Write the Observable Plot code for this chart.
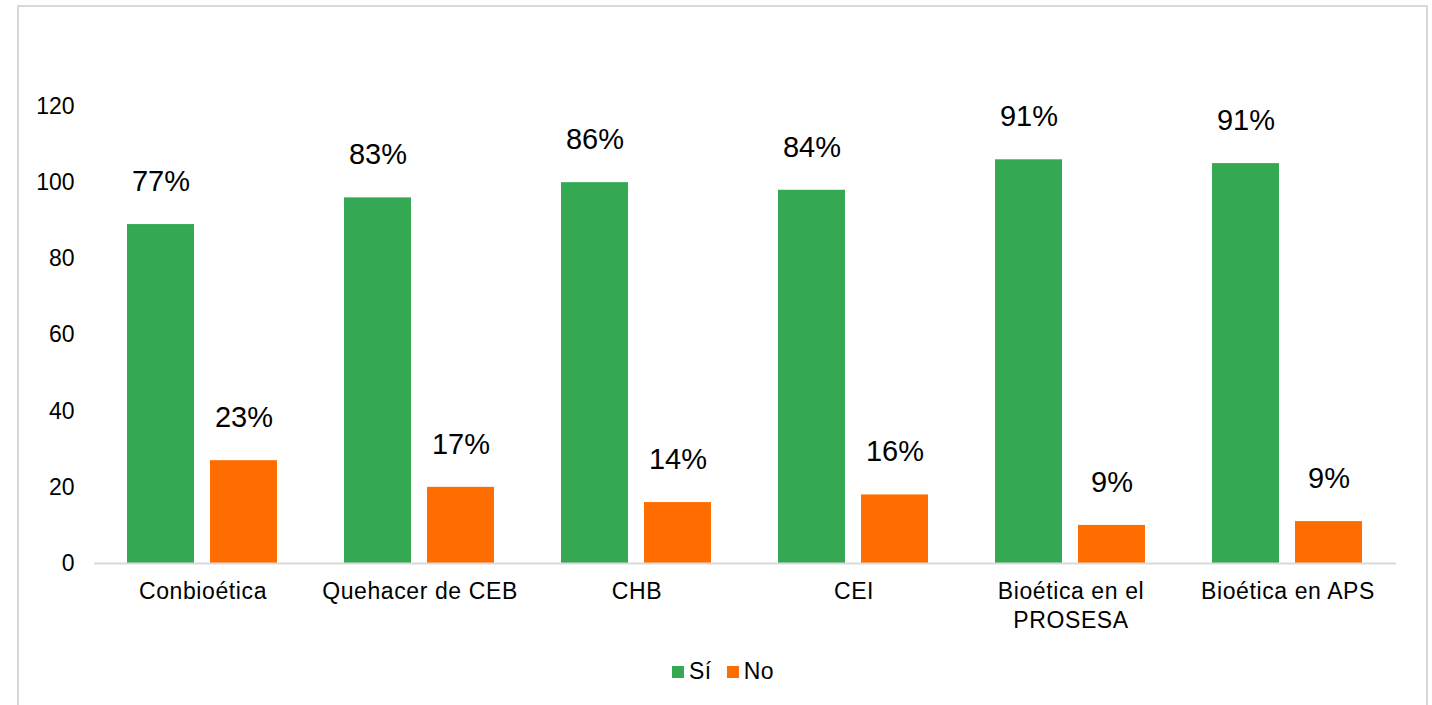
<!DOCTYPE html>
<html><head><meta charset="utf-8">
<script src="https://cdn.jsdelivr.net/npm/d3@7"></script>
<script src="https://cdn.jsdelivr.net/npm/@observablehq/plot@0.6"></script>
<style>
body{margin:0;background:#fff;font-family:"Liberation Sans",Arial,sans-serif;width:1432px;height:705px;overflow:hidden;position:relative;}
#frame{position:absolute;left:17px;top:5px;width:1411px;height:740px;border:2px solid #d9d9d9;box-sizing:border-box;}
#chart{position:absolute;left:0;top:0;}
#chart g[aria-label="fx-axis tick label"] text{letter-spacing:0.6px;}
#legend{position:absolute;top:658px;left:672px;display:flex;align-items:center;font-size:23px;color:#000;letter-spacing:0.5px;}
#legend .sw{width:12px;height:12px;display:inline-block;margin-right:5px;}
#legend .item{display:flex;align-items:center;margin-right:15px;}
</style></head>
<body>
<div id="frame"></div>
<div id="chart"></div>
<div id="legend"></div>
<script>
const categories = ["Conbioética","Quehacer de CEB","CHB","CEI","Bioética en el PROSESA","Bioética en APS"];
const tickLabels = ["Conbioética","Quehacer de CEB","CHB","CEI","Bioética en el\nPROSESA","Bioética en APS"];
const series = ["Sí","No"];
const siValues = [89,96,100,98,106,105];
const noValues = [27,20,16,18,10,11];
const siPct = ["77%","83%","86%","84%","91%","91%"];
const noPct = ["23%","17%","14%","16%","9%","9%"];
const yTicks = [0,20,40,60,80,100,120];
const colors = ["#34a853","#ff6d01"];

const rows = [];
categories.forEach((c,i)=>{
  rows.push({cat:c, s:"Sí", v:siValues[i], pct:siPct[i]});
  rows.push({cat:c, s:"No", v:noValues[i], pct:noPct[i]});
});

const chart = Plot.plot({
  width:1432, height:640,
  marginLeft:92, marginRight:34, marginTop:106, marginBottom:77,
  style:{fontFamily:"'Liberation Sans', Arial, sans-serif", fontSize:"23px", color:"#000", background:"transparent", overflow:"visible"},
  fx:{domain:categories, paddingInner:0, paddingOuter:0, label:null},
  x:{domain:series, paddingInner:0.19, paddingOuter:0.39, axis:null},
  y:{domain:[0,120], axis:null},
  color:{domain:series, range:colors},
  marks:[
    Plot.axisY(yTicks, {tickSize:0, tickPadding:20, label:null, fontSize:23, fill:"#000"}),
    Plot.axisFx({anchor:"bottom", tickSize:0, tickPadding:15, label:null, fontSize:23, lineHeight:1.25, fill:"#000",
      tickFormat: d => tickLabels[categories.indexOf(d)]}),
    Plot.barY(rows, {fx:"cat", x:"s", y:"v", fill:"s"}),
    Plot.ruleY([0], {stroke:"#d9d9d9", strokeWidth:2}),
    Plot.text(rows, {fx:"cat", x:"s", y:"v", text:"pct", dy:-43, fontSize:29, fill:"#000"})
  ]
});
document.getElementById("chart").appendChild(chart);

const legend = document.getElementById("legend");
series.forEach((s,i)=>{
  const item = document.createElement("div");
  item.className = "item";
  const sw = document.createElement("span");
  sw.className = "sw"; sw.style.background = colors[i];
  const t = document.createElement("span");
  t.textContent = s;
  item.appendChild(sw); item.appendChild(t);
  legend.appendChild(item);
});
</script>
</body></html>
